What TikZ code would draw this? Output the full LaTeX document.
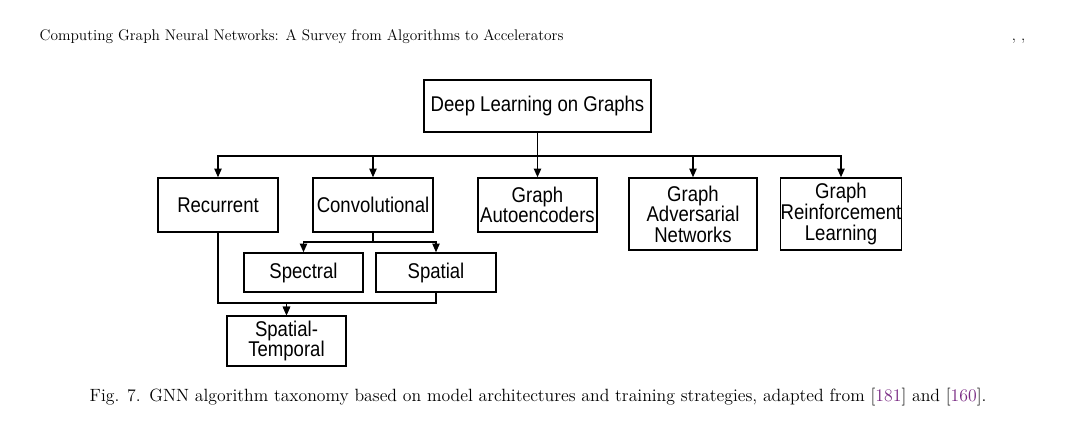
\documentclass[tikz,border=0pt]{standalone}
\usepackage{fontspec}
\usepackage{xcolor}
\usetikzlibrary{arrows.meta}
\newfontfamily\boxfont[FakeStretch=0.87]{Liberation Sans}
\definecolor{citepurple}{RGB}{120,40,130}

\begin{document}
\begin{tikzpicture}[x=0.75pt, y=-0.75pt,
	box/.style={draw, line width=1.1pt, inner sep=0pt, align=center, font=\boxfont\fontsize{16}{15.4}\selectfont},
	link/.style={line width=1pt, -{Triangle[length=6.5pt,width=5.5pt]}}]
			\useasboundingbox (0,0) rectangle (1067,428);

			% Page header
			\node[anchor=base west, font=\fontsize{11.5}{13}\selectfont] (title) at (35,41) {Computing Graph Neural Networks: A Survey from Algorithms to Accelerators};
			\node[anchor=base east, font=\fontsize{11.5}{13}\selectfont] (commas) at (1030,41) {, ,};

			% Root
			\node[box, minimum width=170.25pt, minimum height=39pt] (root) at (537.5,106) {Deep Learning on Graphs};

			% Model architectures and training strategies
			\node[box, minimum width=90pt, minimum height=40.5pt] (rec) at (218,205) {Recurrent};
			\node[box, minimum width=90pt, minimum height=40.5pt] (conv) at (373,205) {Convolutional};
			\node[box, minimum width=89.25pt, minimum height=40.5pt] (auto) at (537.5,205) {Graph\\Autoencoders};
			\node[box, minimum width=96pt, minimum height=54pt] (adv) at (693,214) {Graph\\Adversarial\\Networks};
			\node[box, minimum width=90pt, minimum height=54pt] (rl) at (841,214) {Graph\\Reinforcement\\Learning};

			% Convolutional sub-types
			\node[box, minimum width=89.25pt, minimum height=29.25pt] (spec) at (303.5,272.5) {Spectral};
			\node[box, minimum width=90pt, minimum height=29.25pt] (spat) at (436,272.5) {Spatial};
			\node[box, minimum width=89.25pt, minimum height=37.5pt] (st) at (286.5,341) {Spatial-\\Temporal};

			% Split points
			\coordinate (split) at (537.5,156);
			\coordinate (convsplit) at (373,242);
			\coordinate (merge) at (286.5,303);

			% Draw mappings
			\draw[line width=1pt] (root.south) -- (split);
			\foreach \n in {rec,conv,auto,adv,rl}
			\draw[link] (split) -| (\n.north);
			\draw[line width=1pt] (conv.south) -- (convsplit);
			\foreach \n in {spec,spat}
			\draw[link] (convsplit) -| (\n.north);
			\draw[link] (rec.south) |- (merge) -- (st.north);
			\draw[link] (spat.south) |- (merge) -- (st.north);

			% Caption
			\node[anchor=base west, font=\fontsize{13.3}{15}\selectfont] (caption) at (85,401) {Fig. 7.\enspace GNN algorithm taxonomy based on model architectures and training strategies, adapted from [\textcolor{citepurple}{181}] and [\textcolor{citepurple}{160}].};
		\end{tikzpicture}
\end{document}
